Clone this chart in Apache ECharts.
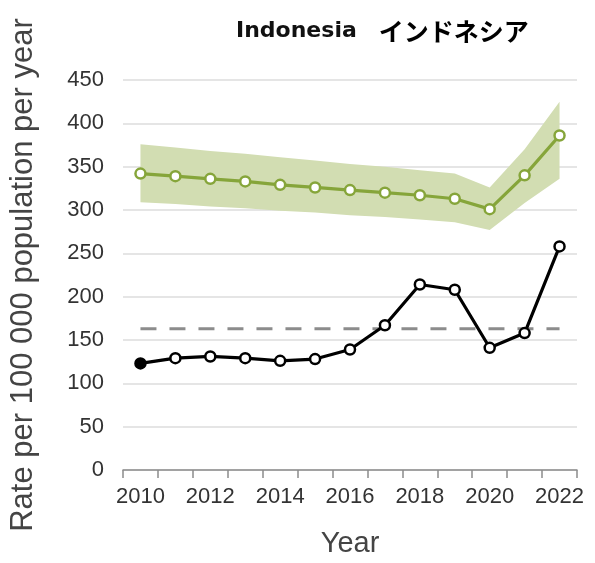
<!DOCTYPE html>
<html>
<head>
<meta charset="utf-8">
<script src="https://cdn.jsdelivr.net/npm/echarts@6/dist/echarts.min.js"></script>
<style>
   html, body { margin: 0; padding: 0; background: #fff; }
   #chart { width: 595px; height: 563px; }
</style>
</head>
<body>
<div id="chart"></div>
<script>
const years = ['2010','2011','2012','2013','2014','2015','2016','2017','2018','2019','2020','2021','2022'];
// 观测值（黑线）
const observed = [123, 129, 131, 129, 126, 128, 139, 167, 214, 208, 141, 158, 258];
// 估计值（绿线）及区间
const estimate = [342, 339, 336, 333, 329, 326, 323, 320, 317, 313, 301, 340, 386];
const bandLow = [309, 307, 304, 302, 299, 297, 294, 292, 289, 286, 277, 308, 336];
const bandHigh = [376, 372, 368, 365, 361, 357, 353, 350, 346, 342, 326, 370, 425];
const reference = [163, 163, 163, 163, 163, 163, 163, 163, 163, 163, 163, 163, 163];
const yTicks = { min: 0, max: 450, interval: 50 };

const green = '#86a53a';
const band = '#d2ddb2';

const chart = echarts.init(document.getElementById('chart'));
const option = {
   animation: false,
   title: {
      text: '{en|Indonesia}{ja|インドネシア}',
      left: 231,
      top: 14,
      textStyle: {
         rich: {
            en: { fontFamily: 'DejaVu Sans', fontWeight: 'bold', fontSize: 22, color: '#111', padding: [0, 22, 0, 0] },
            ja: { fontFamily: 'Noto Sans CJK JP', fontWeight: 'bold', fontSize: 25, color: '#000' }
         }
      }
   },
   grid: { left: 121, right: 18, top: 80, bottom: 91 },
   xAxis: {
      type: 'category',
      data: years,
      boundaryGap: true,
      name: 'Year',
      nameLocation: 'middle',
      nameGap: 59,
      nameTextStyle: { fontFamily: 'Liberation Sans', fontSize: 29, color: '#444' },
      axisLine: { lineStyle: { color: '#8c8c8c', width: 1.5 } },
      axisTick: { show: true, alignWithLabel: false, length: 8, interval: 0, lineStyle: { color: '#8c8c8c', width: 1.5 } },
      axisLabel: { interval: 1, margin: 16, fontFamily: 'Liberation Sans', fontSize: 22, color: '#333' },
      splitLine: { show: false }
   },
   yAxis: {
      type: 'value',
      min: yTicks.min,
      max: yTicks.max,
      interval: yTicks.interval,
      name: 'Rate per 100 000 population per year',
      nameLocation: 'middle',
      nameGap: 84,
      nameTextStyle: { fontFamily: 'Liberation Sans', fontSize: 31, color: '#444' },
      axisLine: { show: false },
      axisTick: { show: false },
      axisLabel: { margin: 19, fontFamily: 'Liberation Sans', fontSize: 22, color: '#333' },
      splitLine: { lineStyle: { color: '#dcdcdc', width: 1.5 } }
   },
   series: [
      {
         type: 'line',
         data: bandLow,
         stack: 'band',
         symbol: 'none',
         lineStyle: { opacity: 0 },
         silent: true
      },
      {
         type: 'line',
         data: bandHigh.map((v, i) => v - bandLow[i]),
         stack: 'band',
         symbol: 'none',
         lineStyle: { opacity: 0 },
         areaStyle: { color: band, opacity: 1 },
         silent: true
      },
      {
         type: 'line',
         data: reference,
         symbol: 'none',
         lineStyle: { color: '#8c8c8c', width: 3, type: [16, 13] }
      },
      {
         type: 'line',
         data: estimate,
         symbol: 'circle',
         symbolSize: 10,
         itemStyle: { color: '#fff', borderColor: green, borderWidth: 2.5 },
         lineStyle: { color: green, width: 3.2 }
      },
      {
         type: 'line',
         data: observed.map((v, i) => i === 0
            ? { value: v, itemStyle: { color: '#000', borderColor: '#000' }, symbolSize: 10 }
            : v),
         symbol: 'circle',
         symbolSize: 10,
         itemStyle: { color: '#fff', borderColor: '#000', borderWidth: 2.5 },
         lineStyle: { color: '#000', width: 3.2 }
      }
   ]
};
chart.setOption(option);
</script>
</body>
</html>
